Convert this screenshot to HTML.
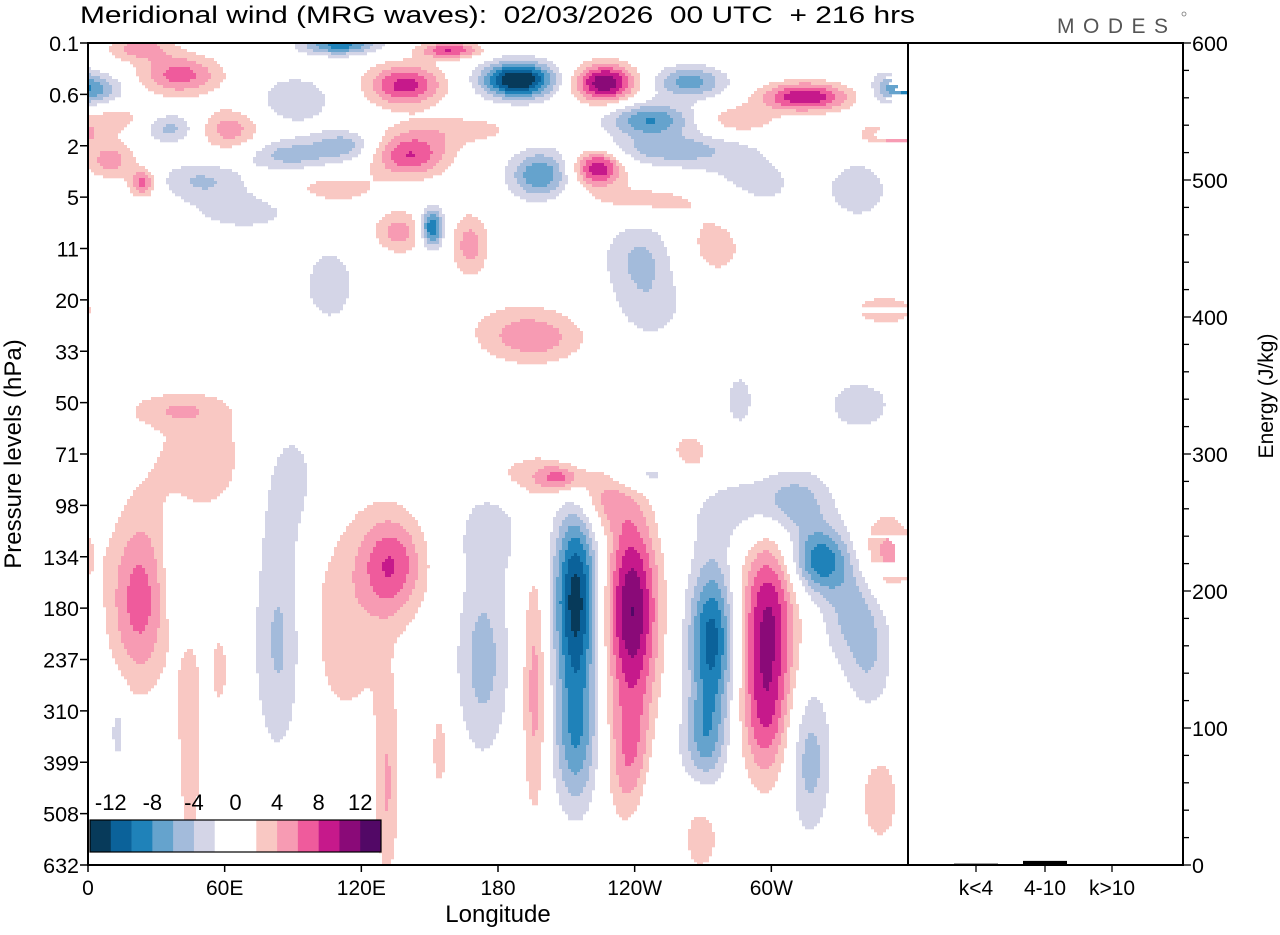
<!DOCTYPE html>
<html><head><meta charset="utf-8">
<style>
body{margin:0;background:#fff;width:1280px;height:930px;overflow:hidden;font-family:"Liberation Sans",sans-serif;}
svg text{font-family:"Liberation Sans",sans-serif;fill:#000;}
</style></head>
<body>
<svg id="chart" width="1280" height="930" xmlns="http://www.w3.org/2000/svg">
<text x="80" y="23" font-size="24" textLength="835" lengthAdjust="spacingAndGlyphs" xml:space="preserve">Meridional wind (MRG waves):  02/03/2026  00 UTC  + 216 hrs</text>
<text x="1057" y="33" font-size="21" style="fill:#555;letter-spacing:8.5px">MODES</text>
<circle cx="1184" cy="14" r="2" fill="none" stroke="#777" stroke-width="0.8"/>
<g id="field"></g>
<g id="axes"></g>
<g id="cbar"></g>
<g id="energy"></g>
</svg>
<script>
const levels=["0.1","0.6","2","5","11","20","33","50","71","98","134","180","237","310","399","508","632"];
const lonTicks=[0,60,120,180,240,300];
const lonLabels=["0","60E","120E","180","120W","60W"];
// wave features: centre longitude (deg E), centre level index, half-extent of |v|=2 contour in lon (deg) and level, peak amplitude (m/s)
const blobLon=[40.4,22.8,62.3,110.6,158.9,139.2,5.3,90.9,36.0,9.7,9.7,24.1,49.2,88.7,112.8,68.9,141.4,106.2,137.0,167.7,151.0,106.2,
188.8,227.0,264.3,246.7,314.8,286.2,354.3,352.1,198.4,223.9,255.5,288.4,246.7,275.2,338.9,242.3,246.7,349.9,163.3,
22.8,40.4,51.4,38.2,44.8,57.9,84.3,88.7,133.5,112.8,131.3,154.5,189.6,173.4,13.2,196.2,214.2,214.2,238.8,238.8,224.8,
273.9,270.9,298.5,297.2,321.3,310.4,336.7,343.3,317.0,349.9,198.4,207.2,242.3,290.6,264.3,268.7,347.7,248.9,198.4,176.5,338.9,286.2];
const blobLev=[0.62,0.1,1.69,0.04,0.14,0.82,0.91,1.11,1.65,1.46,2.28,2.73,2.67,2.18,1.99,3.25,2.18,2.86,3.68,3.93,3.6,4.71,
0.72,0.78,0.76,1.5,1.05,1.5,0.88,1.79,2.57,2.43,2.08,2.76,3.06,3.83,2.86,4.13,5.1,5.2,1.69,
10.84,10.45,8.12,7.14,13.37,12.2,11.62,8.51,10.16,11.23,14.54,13.76,5.59,12.01,13.37,12.59,10.84,13.57,11.04,13.96,8.9,
11.62,13.57,11.23,13.18,10.06,8.9,11.04,12.2,13.96,9.97,8.41,8.47,8.41,9.09,8.02,15.42,14.73,14.73,5.78,9.48,7.05,6.95];
const blobExtLon=[19.8,13.2,13.2,19.8,15.4,19.8,11,13.2,11,13.2,11,6.6,15.4,17.6,13.2,17.6,19.8,15.4,11,7.9,6.6,8.8,
21.9,17.6,17.6,21.9,24.1,13.2,11,13.2,15.4,13.2,26.3,17.6,19.8,11,9.7,13.2,11,11,17.6,
15.4,5.3,17.6,13.2,4.4,2.6,11,11,15.4,15.4,4.4,2.6,15.4,11,2.6,5.3,13.2,11,15.4,11,11,
13.2,9.7,15.4,11,15.4,13.2,13.2,6.6,8.8,11,21.9,8.8,13.2,17.6,6.6,6.6,6.6,6.6,13.2,8.8,11,4.4];
const blobExtLev=[0.43,0.23,0.39,0.23,0.19,0.49,0.29,0.39,0.29,0.19,0.35,0.29,0.29,0.29,0.29,0.29,0.49,0.23,0.39,0.58,0.49,0.58,
0.49,0.49,0.35,0.39,0.35,0.23,0.39,0.23,0.55,0.43,0.29,0.49,0.23,0.58,0.43,0.58,0.49,0.23,0.19,
1.85,0.78,0.8,0.2,1.95,0.49,2.14,0.88,1.07,1.56,1.56,0.58,0.39,1.75,0.49,2.34,2.53,1.56,2.53,1.36,0.49,
1.95,0.97,2.14,1.36,0.78,0.49,0.97,0.6,1.36,0.78,0.29,0.23,0.29,0.49,0.35,0.58,0.68,0.88,0.29,0.58,0.39,0.39];
const blobAmp=[7,5,5,-9,8,9,-5,-4,-5,3,5,7,-4,-5,-5,-3,8,3,5,5,-11,-3,
-15,12,-7,-8,10,4,-6,5,-8,10,-5,-3,3,3,-3,-4,-3,3,3,
7,-3,3,3,3,3,-5,-3,7,3,4,3,3,-5,-3,5,-13,-7,12,6,4,
-11,-6,10,6,-9,-4,-5,-3,-5,5,3,5,-4,-3,3,3,3,-3,3,-3,-3,-3];
const energyCats=["k<4","4-10","k>10"];
const energyVals=[1,3,0.5];
const energyTicks=[0,100,200,300,400,500,600];
const cbLabels=[-12,-8,-4,0,4,8,12];

const NS="http://www.w3.org/2000/svg";
const X0=88,X1=908,Y0=43,Y1=865;
const xOf=lon=>X0+lon*(X1-X0)/360;
const yOf=li=>Y0+li*(Y1-Y0)/16;
const colors=["#073a5a","#0b629a","#1f82b9","#65a3cd","#a3bbdb","#d4d5e7",null,null,"#f9c8c3","#f79bb3","#ef5b9c","#c6198b","#8a0a78","#520866"];
function colorFor(v){let i=Math.floor((v+14)/2);if(i<0)i=0;if(i>13)i=13;return colors[i];}
function el(tag,attrs,parent){const e=document.createElementNS(NS,tag);for(const k in attrs)e.setAttribute(k,attrs[k]);parent.appendChild(e);return e;}
const sigLon=[],sigLev=[];
for(let i=0;i<blobAmp.length;i++){const f=Math.sqrt(2*Math.log(Math.max(Math.abs(blobAmp[i])/2,1.2)));sigLon.push(blobExtLon[i]/f);sigLev.push(blobExtLev[i]/f);}
function field(lon,li){let s=0;for(let i=0;i<blobLon.length;i++){let dl=lon-blobLon[i];if(dl>180)dl-=360;if(dl<-180)dl+=360;const a=dl/sigLon[i],b=(li-blobLev[i])/sigLev[i];const q=a*a+b*b;if(q<20)s+=blobAmp[i]*Math.exp(-q/2);}return s;}
const fg=document.getElementById('field');
const step=3;
for(let py=Y0;py<Y1;py+=step){
  let runStart=X0,runCol=undefined;
  const li=(py+step/2-Y0)/(Y1-Y0)*16;
  for(let px=X0;px<=X1;px+=step){
    let c;
    if(px<X1){const lon=(px+step/2-X0)/(X1-X0)*360;c=colorFor(field(lon,li));}
    else c="END";
    if(c!==runCol){
      if(runCol){const r=el('rect',{x:runStart,y:py,width:Math.min(px,X1)-runStart,height:Math.min(step,Y1-py)+0.3,fill:runCol},fg);
        
        }
      runStart=px;runCol=c==="END"?null:c;
    }
  }
}
const ax=document.getElementById('axes');
el('rect',{x:X0,y:Y0,width:X1-X0,height:Y1-Y0,fill:'none',stroke:'#000','stroke-width':2},ax);
el('rect',{x:X1,y:Y0,width:1183-X1,height:Y1-Y0,fill:'none',stroke:'#000','stroke-width':2},ax);
levels.forEach((l,i)=>{const y=yOf(i);
  el('line',{x1:X0,x2:X0-8,y1:y,y2:y,stroke:'#000','stroke-width':1.5},ax);
  const t=el('text',{x:X0-9,y:y+8,'font-size':21.5,'text-anchor':'end'},ax);t.textContent=l;
  
  });
lonTicks.forEach((lo,i)=>{const x=xOf(lo);
  el('line',{x1:x,x2:x,y1:Y1,y2:Y1+7,stroke:'#000','stroke-width':1.5},ax);
  const t=el('text',{x:x,y:895,'font-size':21,'text-anchor':'middle'},ax);t.textContent=lonLabels[i];
  
  });
let t=el('text',{x:498,y:922,'font-size':24,'text-anchor':'middle'},ax);t.textContent="Longitude";

t=el('text',{x:21,y:454,'font-size':24,'text-anchor':'middle',transform:'rotate(-90 21 454)'},ax);t.textContent="Pressure levels (hPa)";

const eg=document.getElementById('energy');
const eY=v=>Y1-v*(Y1-Y0)/600;
for(let v=0;v<=600;v+=20){const y=eY(v);const major=v%100===0;
  el('line',{x1:1183,x2:1183+(major?8:6),y1:y,y2:y,stroke:'#000','stroke-width':1.3},eg);}
energyTicks.forEach(v=>{const tt=el('text',{x:1192,y:eY(v)+8,'font-size':21.5},eg);tt.textContent=v;
  });
t=el('text',{x:1273,y:396,'font-size':21,'text-anchor':'middle',transform:'rotate(-90 1273 396)'},eg);t.textContent="Energy (J/kg)";

const catX=[976,1045,1112];
energyCats.forEach((c,i)=>{const x=catX[i];
  el('line',{x1:x,x2:x,y1:Y1,y2:Y1+7,stroke:'#000','stroke-width':1.3},eg);
  const b=el('rect',{x:x-22,y:eY(energyVals[i]),width:44,height:Math.max(Y1-eY(energyVals[i]),0.5),fill:'#000'},eg);
  
  const tt=el('text',{x:x,y:895,'font-size':21,'text-anchor':'middle'},eg);tt.textContent=c;
  });
const cb=document.getElementById('cbar');
const cbX0=90,cbW=291/14;
colors.forEach((c,i)=>{const r=el('rect',{x:cbX0+i*cbW,y:820,width:cbW+0.3,height:32,fill:c||'#fff'},cb);
  });
el('rect',{x:cbX0,y:820,width:291,height:32,fill:'none',stroke:'#000','stroke-width':1.2},cb);
cbLabels.forEach(v=>{const x=cbX0+(v+14)/2*cbW;const tt=el('text',{x:x,y:810,'font-size':22,'text-anchor':'middle'},cb);tt.textContent=v;
  });
</script>
</body></html>
